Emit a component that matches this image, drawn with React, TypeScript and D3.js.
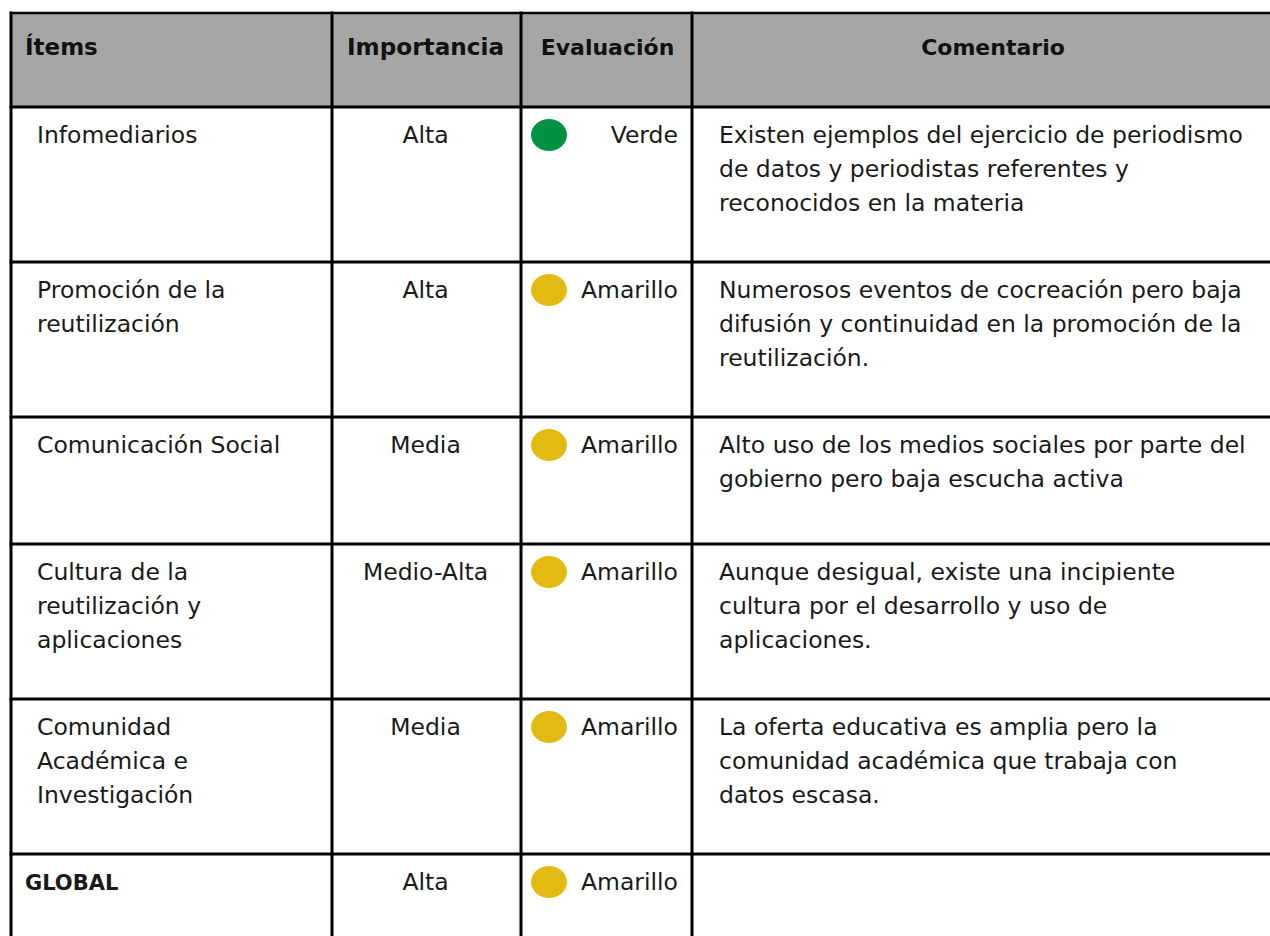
import React from "react";
import * as d3 from "d3";

const headers = ["Ítems", "Importancia", "Evaluación", "Comentario"];
const items: string[][] = [
  ["Infomediarios"],
  ["Promoción de la", "reutilización"],
  ["Comunicación Social"],
  ["Cultura de la", "reutilización y", "aplicaciones"],
  ["Comunidad", "Académica e", "Investigación"],
  ["GLOBAL"],
];
const importancia = ["Alta", "Alta", "Media", "Medio-Alta", "Media", "Alta"];
const evaluacion = ["Verde", "Amarillo", "Amarillo", "Amarillo", "Amarillo", "Amarillo"];
const comentarios: string[][] = [
  ["Existen ejemplos del ejercicio de periodismo", "de datos y periodistas referentes y", "reconocidos en la materia"],
  ["Numerosos eventos de cocreación pero baja", "difusión y continuidad en la promoción de la", "reutilización."],
  ["Alto uso de los medios sociales por parte del", "gobierno pero baja escucha activa"],
  ["Aunque desigual, existe una incipiente", "cultura por el desarrollo y uso de", "aplicaciones."],
  ["La oferta educativa es amplia pero la", "comunidad académica que trabaja con", "datos escasa."],
  [],
];

const colorOf: Record<string, string> = { Verde: "#009142", Amarillo: "#e3ba12" };

const W = 1270;
const H = 936;
const colEdges = [11, 332, 521, 692, 1300];
const tableTop = 13;
const headerH = 94;
const lineH = 34;
const FONT = "'DejaVu Sans', sans-serif";
const FS = 23.5;

export default function App() {
  const nLines = items.map((it, i) => Math.max(it.length, comentarios[i].length, 1));
  const rowH = nLines.map((n) => 71 + 28 * n);
  const rowTops = [tableTop + headerH, ...Array.from(d3.cumsum(rowH)).map((c) => tableTop + headerH + c)];

  const colMid = (c: number) => (colEdges[c] + colEdges[c + 1]) / 2;
  const lines: { x1: number; y1: number; x2: number; y2: number; w: number }[] = [];
  const bottom = H + 20;
  lines.push({ x1: colEdges[0], y1: tableTop, x2: colEdges[4], y2: tableTop, w: 2.5 });
  rowTops.forEach((y) => lines.push({ x1: colEdges[0], y1: y, x2: colEdges[4], y2: y, w: 3 }));
  colEdges.slice(0, 4).forEach((x) => lines.push({ x1: x, y1: tableTop, x2: x, y2: bottom, w: 3 }));

  return (
    <svg
      width={W}
      height={H}
      style={{ position: "absolute", left: 0, top: 0, background: "#fff" }}
      fontFamily={FONT}
    >
      <rect x={colEdges[0]} y={tableTop} width={colEdges[4] - colEdges[0]} height={headerH} fill="#a6a6a6" />
      <g fontWeight="bold" fill="#111">
        <text x={25} y={tableTop + 42} fontSize={23}>{headers[0]}</text>
        <text x={colMid(1) - 1} y={tableTop + 42} textAnchor="middle" fontSize={23} textLength={157} lengthAdjust="spacingAndGlyphs">{headers[1]}</text>
        <text x={colMid(2) + 1} y={tableTop + 42} textAnchor="middle" fontSize={22}>{headers[2]}</text>
        <text x={993} y={tableTop + 42} textAnchor="middle" fontSize={22}>{headers[3]}</text>
      </g>
      {items.map((it, i) => {
        const top = rowTops[i];
        const isGlobal = i === items.length - 1;
        return (
          <g key={i} fontSize={FS} fill="#1a1a1a">
            {it.map((t, k) => (
              <text
                key={k}
                x={isGlobal ? 25 : 37}
                y={top + 36 + k * lineH}
                fontWeight={isGlobal ? "bold" : "normal"}
                fontSize={isGlobal ? 21 : FS}
              >
                {t}
              </text>
            ))}
            <text x={colMid(1) - 1} y={top + 36} textAnchor="middle">{importancia[i]}</text>
            <ellipse cx={549} cy={top + 28} rx={18} ry={16} fill={colorOf[evaluacion[i]]} />
            <text x={678} y={top + 36} textAnchor="end">{evaluacion[i]}</text>
            {comentarios[i].map((t, k) => (
              <text key={k} x={719} y={top + 36 + k * lineH}>{t}</text>
            ))}
          </g>
        );
      })}
      {lines.map((l, i) => (
        <line key={i} x1={l.x1} y1={l.y1} x2={l.x2} y2={l.y2} stroke="#000" strokeWidth={l.w} strokeLinecap="square" />
      ))}
    </svg>
  );
}
